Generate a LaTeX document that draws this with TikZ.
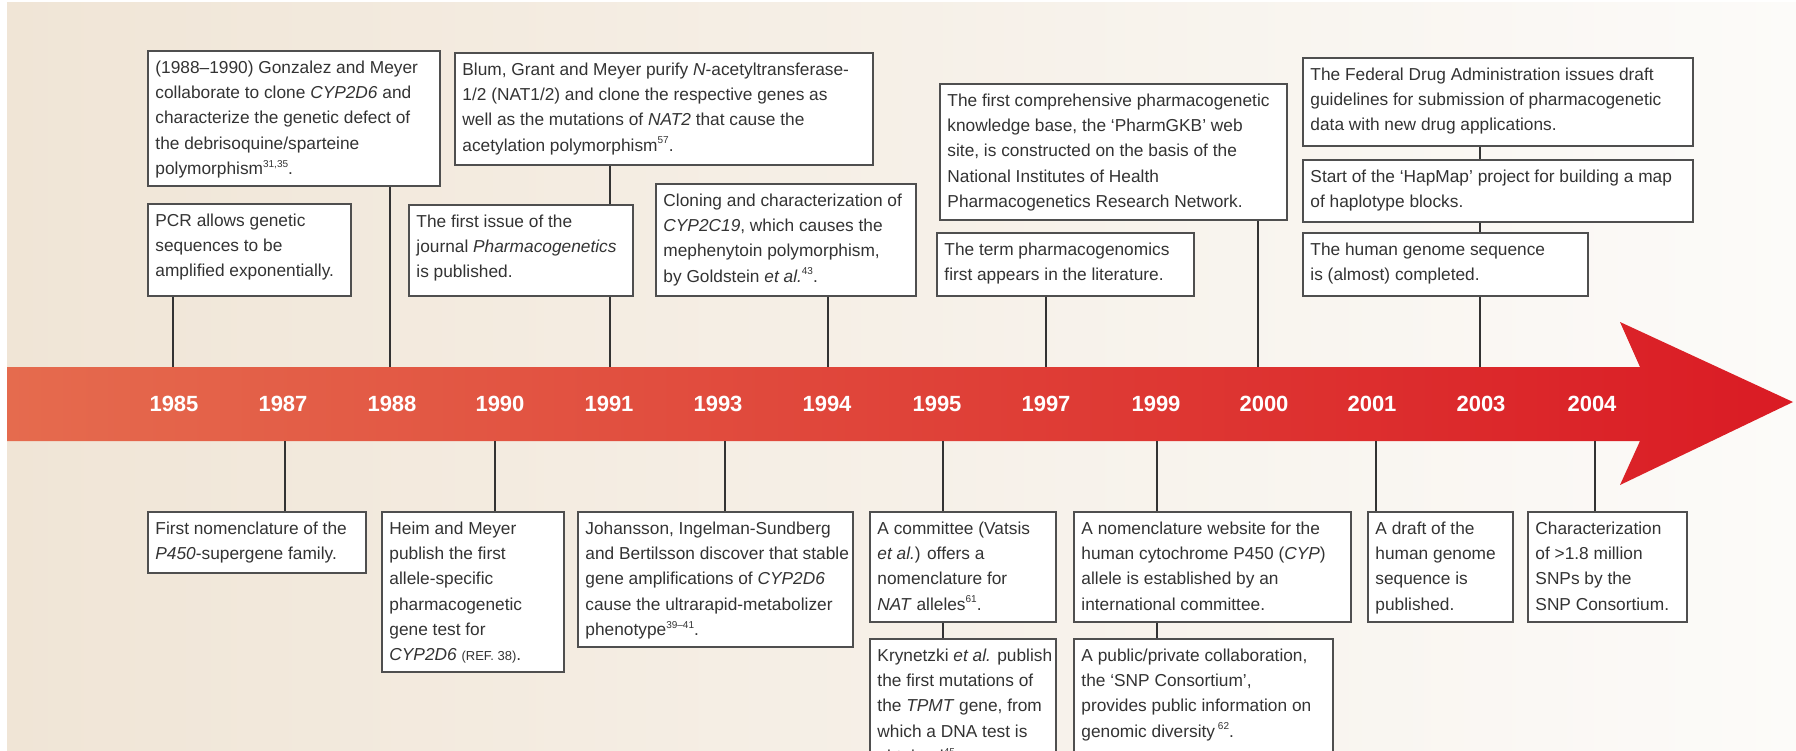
\documentclass[tikz,border=0pt]{standalone}
\usepackage{fontspec}
\setmainfont{Liberation Sans}
\usetikzlibrary{fit}
\definecolor{bgleft}{HTML}{F0E5D6}
\definecolor{bgright}{HTML}{FCFBF9}
\definecolor{arleft}{HTML}{E56B4E}
\definecolor{armid}{HTML}{DF4832}
\definecolor{arright}{HTML}{DA1B24}
\definecolor{edge}{HTML}{4F4F4F}
\definecolor{ink}{HTML}{333333}
% superscript reference numbers and small-cap style citation
\newcommand\sups[1]{\raisebox{0.42em}{\fontsize{10}{10}\selectfont #1}}
\newcommand\refsc[1]{{\fontsize{13}{13}\selectfont #1}}

\begin{document}
\begin{tikzpicture}[x=1pt,y=-1pt,
  evbox/.style={draw=edge,line width=1.5pt,fill=white,inner sep=0pt,rectangle},
  evtext/.style={anchor=north west,align=left,inner sep=0pt,text=ink,
                 font=\fontsize{17.3}{25.2}\selectfont},
  year/.style={text=white,inner sep=0pt,font=\bfseries\fontsize{22}{22}\selectfont},
  conn/.style={draw=ink,line width=1.2pt}]

\useasboundingbox (0,0) rectangle (1796,751);
\clip (0,0) rectangle (1796,751);

% panel background
\fill[white] (0,0) rectangle (1796,751);
\fill[left color=bgleft,right color=bgright] (7,3) rectangle (1796,751);

% timeline arrow
\path[left color=arleft,middle color=armid,right color=arright]
  (7,367) -- (1640,367) -- (1620,322) -- (1793,402) -- (1620,485)
  -- (1640,441) -- (7,441) -- cycle;

% years
\node[year] (y1985) at (174,404) {1985};
\node[year] (y1987) at (283,404) {1987};
\node[year] (y1988) at (392,404) {1988};
\node[year] (y1990) at (500,404) {1990};
\node[year] (y1991) at (609,404) {1991};
\node[year] (y1993) at (718,404) {1993};
\node[year] (y1994) at (827,404) {1994};
\node[year] (y1995) at (937,404) {1995};
\node[year] (y1997) at (1046,404) {1997};
\node[year] (y1999) at (1156,404) {1999};
\node[year] (y2000) at (1264,404) {2000};
\node[year] (y2001) at (1372,404) {2001};
\node[year] (y2003) at (1481,404) {2003};
\node[year] (y2004) at (1592,404) {2004};

% attachment points on the upper and lower edge of the arrow
\coordinate (a85) at (173,367);
\coordinate (a88) at (390,367);
\coordinate (a91) at (610,367);
\coordinate (a94) at (828,367);
\coordinate (a97) at (1046,367);
\coordinate (a00) at (1258,367);
\coordinate (a03) at (1480,367);
\coordinate (b87) at (285,441);
\coordinate (b90) at (495,441);
\coordinate (b93) at (725,441);
\coordinate (b95) at (943,441);
\coordinate (b99) at (1157,441);
\coordinate (b01) at (1376,441);
\coordinate (b04) at (1595,441);

% ---------- events above the timeline ----------
\node[evbox,fit={(148,204)(351,296)}] (pcr) {};
\node[evtext] (pcrT) at ([shift={(8,5.5)}]pcr.north west)
  {\strut PCR allows genetic\\sequences to be\\amplified exponentially.};

\node[evbox,fit={(148,51)(440,186)}] (gon) {};
\node[evtext] (gonT) at ([shift={(8,5.5)}]gon.north west)
  {\strut (1988–1990) Gonzalez and Meyer\\collaborate to clone \textit{CYP2D6} and\\characterize the genetic defect of\\the debrisoquine/sparteine\\polymorphism\sups{31,35}.};

\node[evbox,fit={(455,53)(873,165)}] (blum) {};
\node[evtext] (blumT) at ([shift={(8,5.5)}]blum.north west)
  {\strut Blum, Grant and Meyer purify \textit{N}-acetyltransferase-\\1/2 (NAT1/2) and clone the respective genes as\\well as the mutations of \textit{NAT2} that cause the\\acetylation polymorphism\sups{57}.};

\node[evbox,fit={(409,205)(633,296)}] (issue) {};
\node[evtext] (issueT) at ([shift={(8,5.5)}]issue.north west)
  {\strut The first issue of the\\journal \textit{Pharmacogenetics}\\is published.};

\node[evbox,fit={(656,184)(916,296)}] (clon) {};
\node[evtext] (clonT) at ([shift={(8,5.5)}]clon.north west)
  {\strut Cloning and characterization of\\\textit{CYP2C19}, which causes the\\mephenytoin polymorphism,\\by Goldstein \textit{et al.}\sups{43}.};

\node[evbox,fit={(937,233)(1194,296)}] (term) {};
\node[evtext] (termT) at ([shift={(8,5.5)}]term.north west)
  {\strut The term pharmacogenomics\\first appears in the literature.};

\node[evbox,fit={(940,84)(1287,220)}] (kb) {};
\node[evtext] (kbT) at ([shift={(8,5.5)}]kb.north west)
  {\strut The first comprehensive pharmacogenetic\\knowledge base, the ‘PharmGKB’ web\\site, is constructed on the basis of the\\National Institutes of Health\\Pharmacogenetics Research Network.};

\node[evbox,fit={(1303,58)(1693,146)}] (fda) {};
\node[evtext] (fdaT) at ([shift={(8,5.5)}]fda.north west)
  {\strut The Federal Drug Administration issues draft\\guidelines for submission of pharmacogenetic\\data with new drug applications.};

\node[evbox,fit={(1303,160)(1693,222)}] (hap) {};
\node[evtext] (hapT) at ([shift={(8,5.5)}]hap.north west)
  {\strut Start of the ‘HapMap’ project for building a map\\of haplotype blocks.};

\node[evbox,fit={(1303,233)(1588,296)}] (gen) {};
\node[evtext] (genT) at ([shift={(8,5.5)}]gen.north west)
  {\strut The human genome sequence\\is (almost) completed.};

% ---------- events below the timeline ----------
\node[evbox,fit={(148,512)(366,573)}] (p450) {};
\node[evtext] (p450T) at ([shift={(8,5.5)}]p450.north west)
  {\strut First nomenclature of the\\\textit{P450}-supergene family.};

\node[evbox,fit={(382,512)(564,672)}] (heim) {};
\node[evtext] (heimT) at ([shift={(8,5.5)}]heim.north west)
  {\strut Heim and Meyer\\publish the first\\allele-specific\\pharmacogenetic\\gene test for\\\textit{CYP2D6} \refsc{(REF. 38)}.};

\node[evbox,fit={(578,512)(853,647)}] (joh) {};
\node[evtext] (johT) at ([shift={(8,5.5)}]joh.north west)
  {\strut Johansson, Ingelman-Sundberg\\and Bertilsson discover that stable\\gene amplifications of \textit{CYP2D6}\\cause the ultrarapid-metabolizer\\phenotype\sups{39–41}.};

\node[evbox,fit={(870,512)(1056,622)}] (com) {};
\node[evtext] (comT) at ([shift={(8,5.5)}]com.north west)
  {\strut A committee (Vatsis\\\textit{et al.}) offers a\\nomenclature for\\\textit{NAT} alleles\sups{61}.};

\node[evbox,fit={(870,639)(1056,790)}] (kry) {};
\node[evtext] (kryT) at ([shift={(8,5.5)}]kry.north west)
  {\strut Krynetzki \textit{et al.} publish\\the first mutations of\\the \textit{TPMT} gene, from\\which a DNA test is\\obtained\sups{45}.};

\node[evbox,fit={(1074,512)(1351,622)}] (nom) {};
\node[evtext] (nomT) at ([shift={(8,5.5)}]nom.north west)
  {\strut A nomenclature website for the\\human cytochrome P450 (\textit{CYP})\\allele is established by an\\international committee.};

\node[evbox,fit={(1074,639)(1333,790)}] (snp) {};
\node[evtext] (snpT) at ([shift={(8,5.5)}]snp.north west)
  {\strut A public/private collaboration,\\the ‘SNP Consortium’,\\provides public information on\\genomic diversity\,\sups{62}.};

\node[evbox,fit={(1368,512)(1513,622)}] (draft) {};
\node[evtext] (draftT) at ([shift={(8,5.5)}]draft.north west)
  {\strut A draft of the\\human genome\\sequence is\\published.};

\node[evbox,fit={(1528,512)(1687,622)}] (char) {};
\node[evtext] (charT) at ([shift={(8,5.5)}]char.north west)
  {\strut Characterization\\of >1.8 million\\SNPs by the\\SNP Consortium.};

% ---------- connectors ----------
\draw[conn] (a85 |- pcr.south) -- (a85);
\draw[conn] (a88 |- gon.south) -- (a88);
\draw[conn] (a91 |- blum.south) -- (a91 |- issue.north);
\draw[conn] (a91 |- issue.south) -- (a91);
\draw[conn] (a94 |- clon.south) -- (a94);
\draw[conn] (a97 |- term.south) -- (a97);
\draw[conn] (a00 |- kb.south) -- (a00);
\draw[conn] (a03 |- fda.south) -- (a03 |- hap.north);
\draw[conn] (a03 |- hap.south) -- (a03 |- gen.north);
\draw[conn] (a03 |- gen.south) -- (a03);

\draw[conn] (b87) -- (b87 |- p450.north);
\draw[conn] (b90) -- (b90 |- heim.north);
\draw[conn] (b93) -- (b93 |- joh.north);
\draw[conn] (b95) -- (b95 |- com.north);
\draw[conn] (b95 |- com.south) -- (b95 |- kry.north);
\draw[conn] (b99) -- (b99 |- nom.north);
\draw[conn] (b99 |- nom.south) -- (b99 |- snp.north);
\draw[conn] (b01) -- (b01 |- draft.north);
\draw[conn] (b04) -- (b04 |- char.north);
\end{tikzpicture}
\end{document}
